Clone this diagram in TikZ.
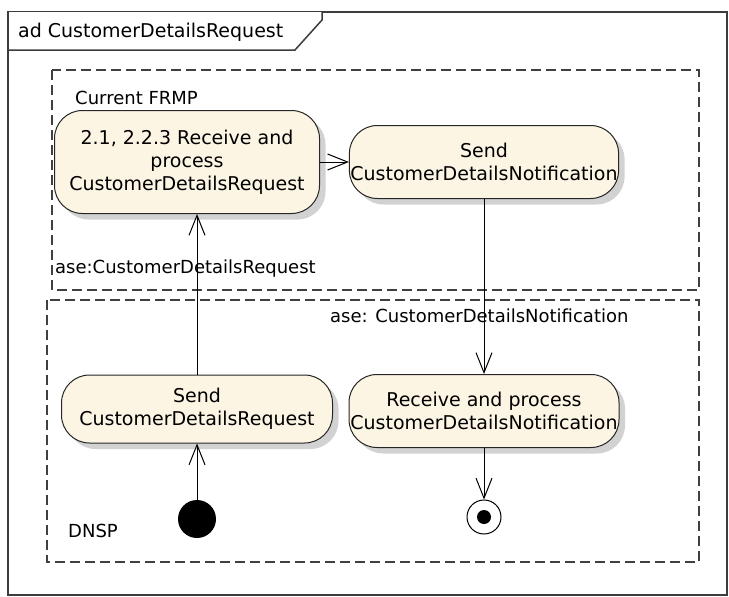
\documentclass[tikz,border=0pt]{standalone}
\usepackage{fontspec}
\setmainfont{DejaVu Sans}
\usetikzlibrary{arrows.meta, shadows}
\definecolor{actfill}{RGB}{253, 245, 228}
\definecolor{frameline}{RGB}{60, 60, 60}

\tikzset{
    action/.style={draw=black!85, line width=1pt, fill=actfill, rounded corners=28pt,
        align=center, inner sep=1pt,
        drop shadow={shadow xshift=6pt, shadow yshift=-6pt, fill=black!25, opacity=.7}},
    flow/.style={line width=1pt, -{Straight Barb[length=20pt, width=16pt]}},
    lane/.style={draw=black!75, line width=1.6pt, dash pattern=on 10pt off 5pt},
    caption/.style={anchor=base west, inner sep=0pt}
}

\begin{document}
\begin{tikzpicture}[x=1pt, y=-1pt, font=\fontsize{19}{23}\selectfont]
    \useasboundingbox (0,0) rectangle (729,597);
    % diagram frame and name tab
    \draw[frameline, line width=1.5pt] (8,12) rectangle (727,595);
    \draw[frameline, line width=1.5pt, fill=white] (8,12) -- (8,50) -- (295,50) -- (322,20) -- (322,12);
    \node[caption] (title) at (18,37) {ad CustomerDetailsRequest};

    % partitions
    \draw[lane] (52,70) rectangle (699,290);
    \draw[lane] (47,300) rectangle (699,562);
    \node[caption, font=\fontsize{18}{22}\selectfont] (frmp) at (75,104) {Current FRMP};
    \node[caption, font=\fontsize{18}{22}\selectfont] (dnsp) at (68,537) {DNSP};

    % actions
    \node[action, minimum width=265pt, minimum height=103pt] (recvreq) at (187,162)
        {2.1, 2.2.3 Receive and\\process\\CustomerDetailsRequest};
    \node[action, minimum width=268pt, minimum height=73pt] (sendnot) at (484,162)
        {Send\\CustomerDetailsNotification};
    \node[action, minimum width=271pt, minimum height=68pt] (sendreq) at (197,409)
        {Send\\CustomerDetailsRequest};
    \node[action, minimum width=270pt, minimum height=73pt] (recvnot) at (484,411)
        {Receive and process\\CustomerDetailsNotification};

    % initial and final
    \node[circle, fill=black, minimum size=38pt, inner sep=0pt] (start) at (197,519) {};
    \node[circle, draw=black, line width=1pt, fill=white, minimum size=34pt, inner sep=0pt] (stop) at (484,517) {};
    \fill (stop.center) circle (7);

    % flows
    \draw[flow] (recvreq) -- (sendnot);
    \draw[flow] (sendreq.north) -- (sendreq.north |- recvreq.south);
    \draw[flow] (sendnot) -- (recvnot);
    \draw[flow] (start) -- (sendreq);
    \draw[flow] (recvnot) -- (stop);

    \node[caption, font=\fontsize{18}{22}\selectfont] (reqlbl) at (55,273) {ase:CustomerDetailsRequest};
    \node[caption, font=\fontsize{18}{22}\selectfont] (notlbl) at (330,322) {ase: CustomerDetailsNotification};
\end{tikzpicture}
\end{document}
